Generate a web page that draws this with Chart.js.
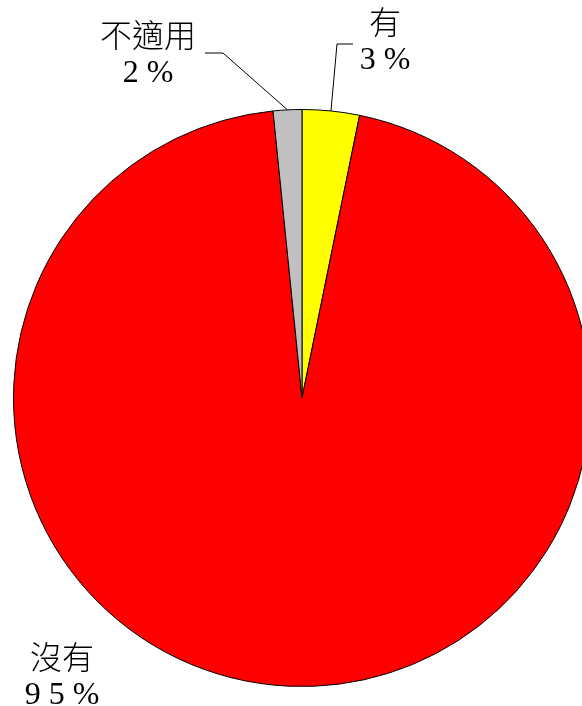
<!DOCTYPE html>
<html>
<head>
<meta charset="utf-8">
<script src="https://cdn.jsdelivr.net/npm/chart.js@4/dist/chart.umd.min.js"></script>
<style>
  html, body { margin: 0; padding: 0; background: #fff; overflow: hidden; width: 582px; height: 706px; }
  #wrap { position: absolute; left: 0; top: 0; width: 604px; height: 796px; }
</style>
</head>
<body>
<div id="wrap"><canvas id="pie" width="604" height="796"></canvas></div>
<script>
// data
const categories = ['有', '沒有', '不適用'];
const shares = [3.2, 95.2, 1.6];
const shareLabels = ['3 %', '9 5 %', '2 %'];
const sliceColors = ['#ffff00', '#ff0000', '#c0c0c0'];

// label placement (offset from pie centre) and leader bend points
const labelSpots = [
  { x: 83, y: -372, bend: [35, -354, 51, -354] },
  { x: -240, y: 263, bend: null },
  { x: -154, y: -359, bend: [-79, -345, -97, -345] },
];

const FONT = '300 32px "Liberation Serif", "Noto Sans CJK TC", serif';

const pieLabels = {
  id: 'pieLabels',
  afterDraw(chart) {
    const ctx = chart.ctx;
    const arcs = chart.getDatasetMeta(0).data;
    ctx.save();
    ctx.font = FONT;
    ctx.fillStyle = '#000';
    ctx.strokeStyle = '#000';
    ctx.lineWidth = 1;
    ctx.textAlign = 'center';
    ctx.textBaseline = 'middle';
    arcs.forEach((arc, i) => {
      const spot = labelSpots[i];
      const cx = arc.x, cy = arc.y;
      if (spot.bend) {
        const mid = (arc.startAngle + arc.endAngle) / 2;
        const r = arc.outerRadius;
        ctx.beginPath();
        ctx.moveTo(cx + Math.cos(mid) * r, cy + Math.sin(mid) * r);
        ctx.lineTo(cx + spot.bend[0], cy + spot.bend[1]);
        ctx.lineTo(cx + spot.bend[2], cy + spot.bend[3]);
        ctx.stroke();
      }
      ctx.fillText(categories[i], cx + spot.x, cy + spot.y);
      ctx.fillText(shareLabels[i], cx + spot.x, cy + spot.y + 35);
    });
    ctx.restore();
  }
};

new Chart(document.getElementById('pie'), {
  type: 'pie',
  data: {
    labels: categories,
    datasets: [{
      data: shares,
      backgroundColor: sliceColors,
      borderColor: '#000',
      borderWidth: 1,
    }],
  },
  options: {
    responsive: false,
    animation: false,
    layout: { padding: 13 },
    plugins: {
      legend: { display: false },
      tooltip: { enabled: false },
    },
  },
  plugins: [pieLabels],
});
</script>
</body>
</html>
